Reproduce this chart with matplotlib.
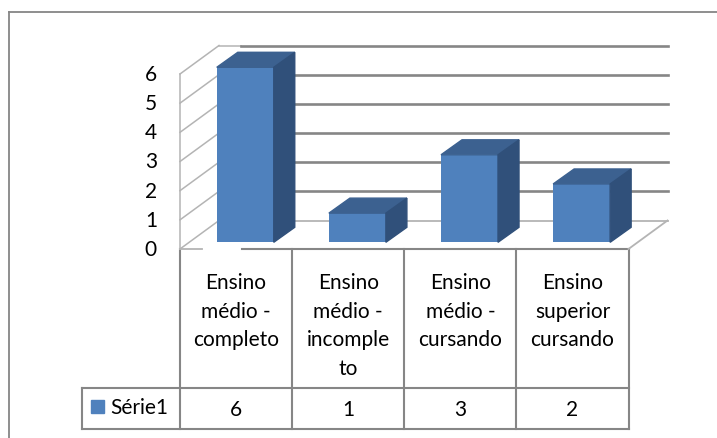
import matplotlib.pyplot as plt
from matplotlib.patches import Polygon

# dados
categorias = [["Ensino", "médio -", "completo"],
              ["Ensino", "médio -", "incomple", "to"],
              ["Ensino", "médio -", "cursando"],
              ["Ensino", "superior", "cursando"]]
valores = [6, 1, 3, 2]
serie = "Série1"
yticks = [0, 1, 2, 3, 4, 5, 6]

azul = "#4F81BD"
azul_topo = "#3C6190"
azul_lado = "#30507A"
cinza = "#868686"
cinza_claro = "#b4b4b4"
fonte = "Lato"
fs = 15

W, H = 717, 439
fig = plt.figure(figsize=(W / 100, H / 100), dpi=100)

# eixo "de fundo" em pixels (moldura e tabela)
bg = fig.add_axes([0, 0, 1, 1], zorder=0)
bg.set_xlim(0, W)
bg.set_ylim(H, 0)
bg.axis("off")

# eixo das barras (plano frontal das colunas)
x0_px, y0_px = 189.2, 243.3
larg_px, alt_px = 448.5, 175
ax = fig.add_axes([x0_px / W, (H - y0_px) / H, larg_px / W, alt_px / H], zorder=1)
ax.patch.set_alpha(0)
ax.set_xlim(-0.5, len(valores) - 0.5)
ax.set_ylim(0, max(yticks))
ax.axis("off")

PX_X = larg_px / len(valores)
PX_Y = alt_px / max(yticks)


def desloc(dx, dy):
    # deslocamento em pixels -> unidades de dados
    return dx / PX_X, -dy / PX_Y


fx, fy = desloc(-9.2, 6.7)     # plano frontal (eixo / tabela)
tx, ty = desloc(29.8, -21.8)   # parede do fundo
px_, py_ = desloc(21, -15)     # profundidade da barra
x_esq = -0.5
x_dir = len(valores) - 0.5
ymax = max(yticks)

# parede lateral esquerda
ax.plot([x_esq + fx] * 2, [fy, ymax + fy], color=cinza_claro, lw=1.1, clip_on=False, zorder=1)
for v in yticks:
    ax.plot([x_esq + fx, x_esq + tx], [v + fy, v + ty], color=cinza_claro, lw=1.1,
            clip_on=False, zorder=1)
# linhas de grade no fundo
gx0 = x_esq + tx + 22 / PX_X
ax.plot([x_esq + tx, gx0], [ymax + ty] * 2, color=cinza_claro, lw=1.1, clip_on=False, zorder=1)
for v in yticks[1:]:
    ax.plot([gx0, x_dir + tx], [v + ty] * 2, color=cinza, lw=1.9, clip_on=False, zorder=1)
# piso
ax.plot([x_esq + tx, x_dir + tx], [ty, ty], color=cinza_claro, lw=1.3, clip_on=False, zorder=1)
ax.plot([x_dir + fx, x_dir + tx], [fy, ty], color=cinza_claro, lw=1.3, clip_on=False, zorder=1)
ax.plot([x_esq + fx, gx0 - tx + fx], [fy, fy], color=cinza_claro, lw=1.3, clip_on=False, zorder=1)

# barras
larg = 57 / PX_X
xs = list(range(len(valores)))
ax.bar(xs, valores, width=larg, color=azul, zorder=3, clip_on=False)
for x, v in zip(xs, valores):
    e, d = x - larg / 2, x + larg / 2
    ax.add_patch(Polygon([(e, v), (d, v), (d + px_, v + py_), (e + px_, v + py_)],
                         closed=True, color=azul_topo, zorder=3, clip_on=False))
    ax.add_patch(Polygon([(d, 0), (d + px_, py_), (d + px_, v + py_), (d, v)],
                         closed=True, color=azul_lado, zorder=3, clip_on=False))

# rótulos do eixo y
for v in yticks:
    ax.text(x_esq + fx - 23 / PX_X, v + fy, str(v), ha="right", va="center",
            fontsize=fs, family=fonte, clip_on=False)

# moldura do gráfico
bg.plot([9, 9], [13, H], color=cinza, lw=1.3)
bg.plot([9, W], [13, 13], color=cinza, lw=1.3)

# tabela de dados
t_esq = ax.transData.transform((x_esq + fx, 0))[0]
cols = [t_esq + i * PX_X for i in range(len(valores) + 1)]
y_topo, y_linha, y_base = 250, 389, 430
x_leg = 82
lw_t = 1.5
bg.plot([cols[0] + 61.7, cols[-1]], [y_topo] * 2, color=cinza, lw=lw_t)
for c in cols:
    bg.plot([c, c], [y_topo, y_base], color=cinza, lw=lw_t)
bg.plot([x_leg, cols[-1]], [y_linha] * 2, color=cinza, lw=lw_t)
bg.plot([x_leg, cols[-1]], [y_base] * 2, color=cinza, lw=lw_t)
bg.plot([x_leg, x_leg], [y_linha, y_base], color=cinza, lw=lw_t)

for i, (linhas, v) in enumerate(zip(categorias, valores)):
    cx = (cols[i] + cols[i + 1]) / 2
    for k, t in enumerate(linhas):
        bg.text(cx, 283.3 + k * 28.5, t, ha="center", va="center",
                fontsize=fs, family=fonte)
    bg.text(cx, 410, str(v), ha="center", va="center", fontsize=fs, family=fonte)

bg.add_patch(plt.Rectangle((90.7, 401), 13.3, 13.3, color=azul))
bg.text(110, 408.5, serie, ha="left", va="center", fontsize=fs, family=fonte)

fig.savefig("out.png", dpi=100)
